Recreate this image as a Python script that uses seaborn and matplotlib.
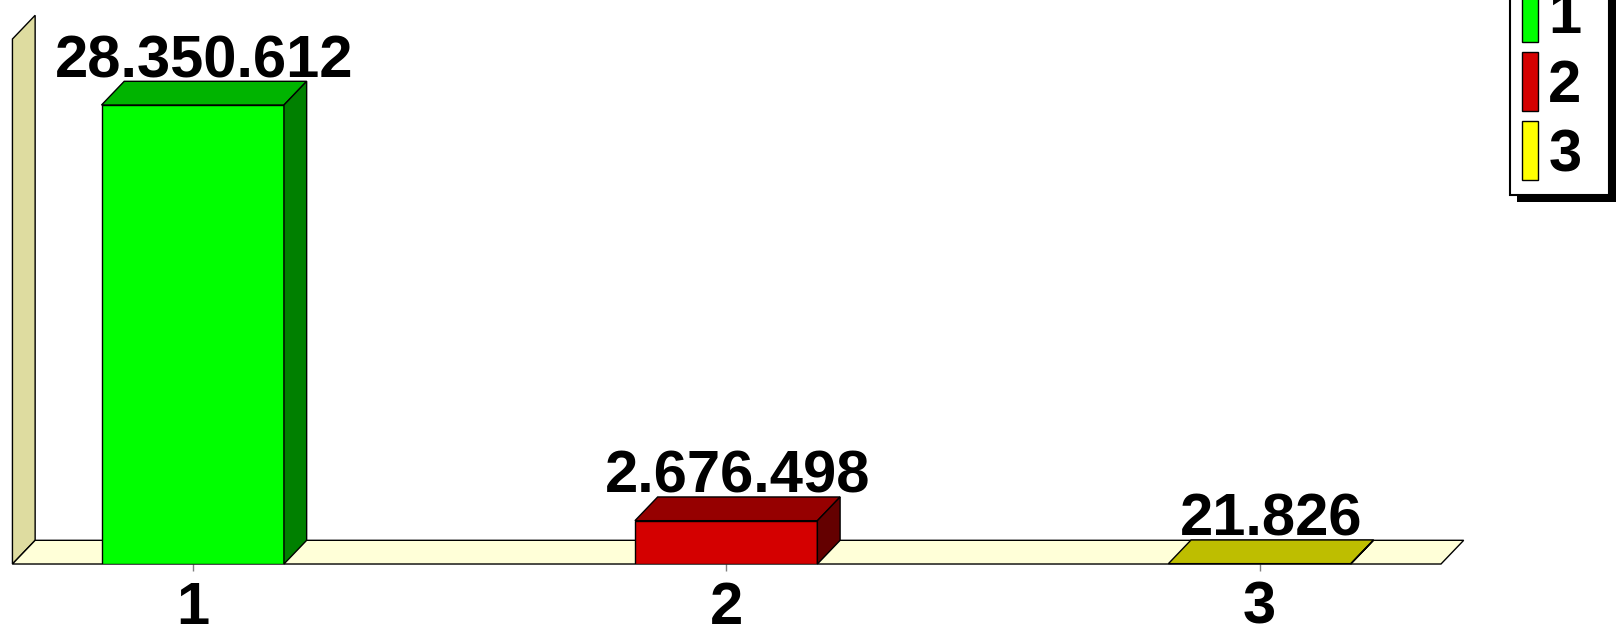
import matplotlib
matplotlib.use("Agg")
import matplotlib.pyplot as plt
from matplotlib.patches import Polygon, Patch, Rectangle
from matplotlib.font_manager import FontProperties
import seaborn as sns

# chart data
categories = ["1", "2", "3"]
values = [28350612, 2676498, 21826]
front_colors = ["#00FF00", "#D40000", "#FFFF00"]
top_colors = ["#00B400", "#960000", "#BEBE00"]
side_colors = ["#008000", "#640000", "#8C8C00"]

sns.set_style("white")
plt.rcParams["font.family"] = ["Liberation Sans", "DejaVu Sans"]
plt.rcParams["text.color"] = "black"
big = FontProperties(family="Liberation Sans", weight="bold", size=43)

fig = plt.figure(figsize=(16.16, 6.28), dpi=100)
ax = fig.add_axes([0.0077, 0.1019, 0.884, 0.836])

sns.barplot(x=categories, y=values, hue=categories, palette=front_colors,
            width=0.342, edgecolor="black", linewidth=1, saturation=1,
            legend=False, ax=ax, zorder=3)

ax.set_xlim(-0.338, 2.34)
ax.set_ylim(0, max(values) * 525 / 459)
for s in ax.spines.values():
    s.set_visible(False)
ax.set_yticks([])
ax.set_xlabel("")
ax.tick_params(axis="x", bottom=True, length=5, width=1, color="#808080",
               pad=7, labelcolor="black")
for lab in ax.get_xticklabels():
    lab.set_fontproperties(big)

# depth offset (pixels) -> data units
p0 = ax.transData.transform((0, 0))
dxy = ax.transData.inverted().transform((p0[0] + 22.7, p0[1] + 23.7))
dx, dy = dxy[0], dxy[1]
lift = ax.transData.inverted().transform((p0[0], p0[1] + 4))[1]
xl, xr = ax.get_xlim()
ytop = ax.get_ylim()[1]

# back wall and floor
wall = Polygon([(xl, 0), (xl, ytop), (xl + dx, ytop + dy), (xl + dx, dy)],
               facecolor="#DEDCA0", edgecolor="black", linewidth=1, clip_on=False, zorder=1)
floor = Polygon([(xl, 0), (xr, 0), (xr + dx, dy), (xl + dx, dy)],
                facecolor="#FFFFD8", edgecolor="black", linewidth=1, clip_on=False, zorder=2)
ax.add_patch(wall)
ax.add_patch(floor)

bars = sorted([p for p in ax.patches if isinstance(p, Rectangle)], key=lambda p: p.get_x())
for bar, v, tc, sc in zip(bars, values, top_colors, side_colors):
    x0 = bar.get_x()
    x1 = x0 + bar.get_width()
    h = bar.get_height()
    top = Polygon([(x0, h), (x1, h), (x1 + dx, h + dy), (x0 + dx, h + dy)],
                  facecolor=tc, edgecolor="black", linewidth=1, clip_on=False, zorder=4)
    side = Polygon([(x1, 0), (x1, h), (x1 + dx, h + dy), (x1 + dx, dy)],
                   facecolor=sc, edgecolor="black", linewidth=1, clip_on=False, zorder=4)
    ax.add_patch(top)
    ax.add_patch(side)
    label = f"{v:,}".replace(",", ".")
    ax.text((x0 + x1) / 2 + dx / 2, h + dy + lift, label, ha="center", va="baseline",
            fontproperties=big, color="black", zorder=5, clip_on=False)

# legend with black drop shadow
handles = [Patch(facecolor=c, edgecolor="black", linewidth=1) for c in front_colors]
leg = fig.legend(handles, categories, loc="lower left",
                 bbox_to_anchor=(1510 / 1616, (628 - 195) / 628, 99 / 1616, 0.5),
                 mode="expand", prop=big, handlelength=0.27, handleheight=1.15,
                 handletextpad=0.17, labelspacing=0.12, borderpad=0.2,
                 borderaxespad=0, frameon=True, fancybox=False,
                 edgecolor="black", framealpha=1, labelcolor="black")
leg.get_frame().set_linewidth(1.5)
leg.set_zorder(10)

fig.canvas.draw()
bb = leg.get_window_extent()
shadow = Rectangle((bb.x0 + 7, bb.y0 - 7), bb.width, bb.height, transform=None,
                   facecolor="black", edgecolor="none", zorder=9)
fig.add_artist(shadow)

fig.savefig("out.png", dpi=100)
